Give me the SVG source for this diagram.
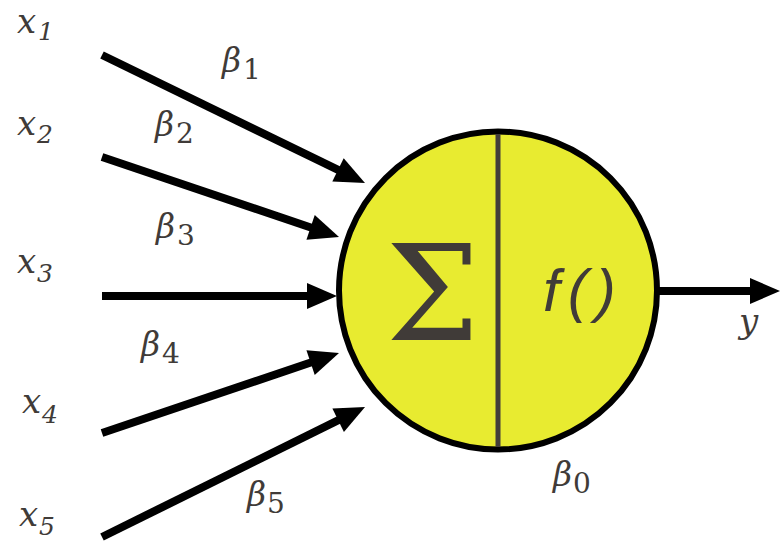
<svg xmlns="http://www.w3.org/2000/svg" width="780" height="541" viewBox="0 0 780 541">
<defs>
<marker id="ah" markerUnits="userSpaceOnUse" markerWidth="30" markerHeight="26" refX="15" refY="13" orient="auto" overflow="visible">
<path d="M0,0 L30,13 L0,26 Z" fill="#000"/>
</marker>
<style>
.c{stroke:#000;stroke-width:8;fill:none;marker-end:url(#ah)}
.lbl{font-family:'DejaVu Serif','Liberation Serif',serif;font-style:italic;fill:#403b38}
.v{font-size:34px}
.vs{font-size:25px}
.b{font-size:33px}
.bs{font-size:28px;font-style:normal}
</style>
</defs>
<rect width="780" height="541" fill="#fff"/>
<g id="connectors">
<line class="c" x1="102" y1="55" x2="351.5" y2="176.4"/>
<line class="c" x1="102" y1="157" x2="324.8" y2="232.2"/>
<line class="c" x1="102" y1="296" x2="322" y2="296"/>
<line class="c" x1="102" y1="433" x2="324.8" y2="357.8"/>
<line class="c" x1="102" y1="537" x2="351.6" y2="413.6"/>
<line class="c" x1="658" y1="291" x2="765" y2="291"/>
</g>
<g id="neuron">
<circle cx="498" cy="290.5" r="159" fill="#e8eb30" stroke="#000" stroke-width="6"/>
<line x1="498" y1="134" x2="498" y2="447" stroke="#423d3a" stroke-width="5"/>
<text x="386" y="340" font-family="DejaVu Serif, serif" font-size="132" fill="#403b38">Σ</text>
<text x="543" y="311" font-family="Liberation Sans, Arial, sans-serif" font-style="italic" font-size="60" letter-spacing="8" fill="#403b38">f()</text>
</g>
<g id="inputs">
<text class="lbl" x="17" y="33"><tspan class="v">x</tspan><tspan class="vs" x="38" y="40">1</tspan></text>
<text class="lbl" x="17" y="135"><tspan class="v">x</tspan><tspan class="vs" x="37" y="143">2</tspan></text>
<text class="lbl" x="17" y="273"><tspan class="v">x</tspan><tspan class="vs" x="37" y="282">3</tspan></text>
<text class="lbl" x="22" y="413"><tspan class="v">x</tspan><tspan class="vs" x="42" y="423">4</tspan></text>
<text class="lbl" x="19" y="526"><tspan class="v">x</tspan><tspan class="vs" x="39" y="535">5</tspan></text>
</g>
<g id="weights">
<text class="lbl" x="222" y="72"><tspan class="b">β</tspan><tspan class="bs" x="243" y="79">1</tspan></text>
<text class="lbl" x="155" y="136"><tspan class="b">β</tspan><tspan class="bs" x="176" y="143">2</tspan></text>
<text class="lbl" x="156" y="238"><tspan class="b">β</tspan><tspan class="bs" x="177" y="245">3</tspan></text>
<text class="lbl" x="141" y="356"><tspan class="b">β</tspan><tspan class="bs" x="162" y="363">4</tspan></text>
<text class="lbl" x="247" y="506"><tspan class="b">β</tspan><tspan class="bs" x="267" y="513">5</tspan></text>
<text class="lbl" x="553" y="486"><tspan class="b">β</tspan><tspan class="bs" x="573" y="493">0</tspan></text>
</g>
<g id="output">
<text class="lbl v" x="739" y="333">y</text>
</g>
</svg>
